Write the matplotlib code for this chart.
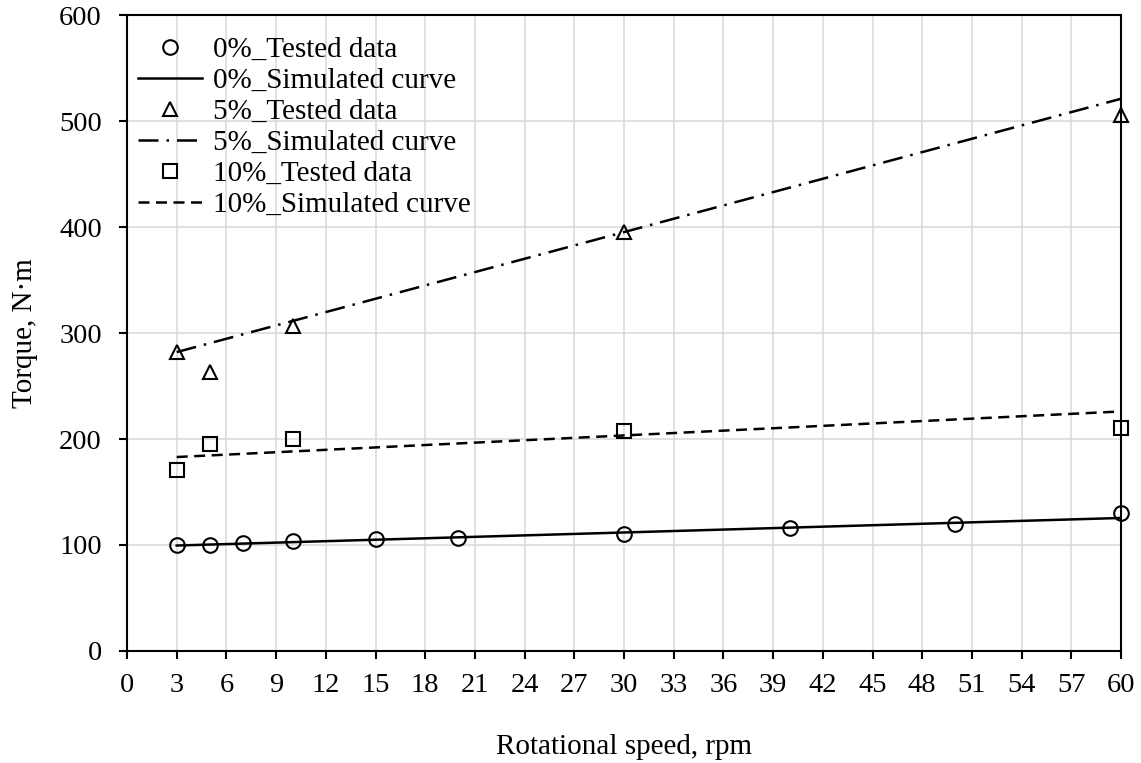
import matplotlib
matplotlib.use("Agg")
import matplotlib.pyplot as plt

# Tested data (rotational speed in rpm, torque in N·m)
speed_0 = [3, 5, 7, 10, 15, 20, 30, 40, 50, 60]
torque_0 = [100, 100, 102, 104, 106, 107, 110, 116, 120, 130]
speed_5 = [3, 5, 10, 30, 60]
torque_5 = [282, 263, 307, 395, 506]
speed_10 = [3, 5, 10, 30, 60]
torque_10 = [171, 195, 200, 208, 210]

# Simulated curves
speed_sim = [3, 60]
sim_0 = [99.5, 125.5]
sim_5 = [282, 521]
sim_10 = [183, 226]

x_ticks = list(range(0, 61, 3))
y_ticks = list(range(0, 601, 100))

plt.rcParams["font.family"] = ["Liberation Serif", "DejaVu Serif"]

fig = plt.figure(figsize=(11.41, 7.63), dpi=100)
ax = fig.add_axes([0.1113, 0.1468, 0.8712, 0.8335])

lw = 1.8
mk = dict(linestyle="none", markerfacecolor="none", markeredgecolor="black",
          markeredgewidth=1.5, color="black", clip_on=False, zorder=4)

ax.plot(speed_0, torque_0, marker="o", markersize=10.5, label="0%_Tested data", **mk)
ax.plot(speed_sim, sim_0, color="black", lw=lw, linestyle="-",
        label="0%_Simulated curve", zorder=3)
ax.plot(speed_5, torque_5, marker="^", markersize=10.5, label="5%_Tested data", **mk)
ax.plot(speed_sim, sim_5, color="black", lw=lw, linestyle=(0, (8, 3.2, 1, 3.2)),
        label="5%_Simulated curve", zorder=3)
ax.plot(speed_10, torque_10, marker="s", markersize=9.5, label="10%_Tested data", **mk)
ax.plot(speed_sim, sim_10, color="black", lw=lw, linestyle=(0, (4.4, 2.6)),
        label="10%_Simulated curve", zorder=3)

ax.set_xlim(0, 60)
ax.set_ylim(0, 600)
ax.set_xticks(x_ticks)
ax.set_yticks(y_ticks)
ax.grid(True, color="#d9d9d9", linewidth=1.1)
ax.set_axisbelow(True)

for s in ax.spines.values():
    s.set_linewidth(1.5)
ax.tick_params(axis="both", direction="out", length=6, width=1.5, labelsize=20.5)
ax.tick_params(axis="x", pad=10)
ax.tick_params(axis="y", pad=12)

ax.set_xlabel("Rotational speed, rpm", fontsize=21, labelpad=26)
ax.set_ylabel("Torque, N·m", fontsize=21, labelpad=15)

ax.legend(loc="upper left", bbox_to_anchor=(0.0023, 0.980), frameon=False,
          fontsize=21, handlelength=2.2, handletextpad=0.38, labelspacing=0.16,
          borderaxespad=0.0, borderpad=0.3)

fig.savefig("out.png", dpi=100)
